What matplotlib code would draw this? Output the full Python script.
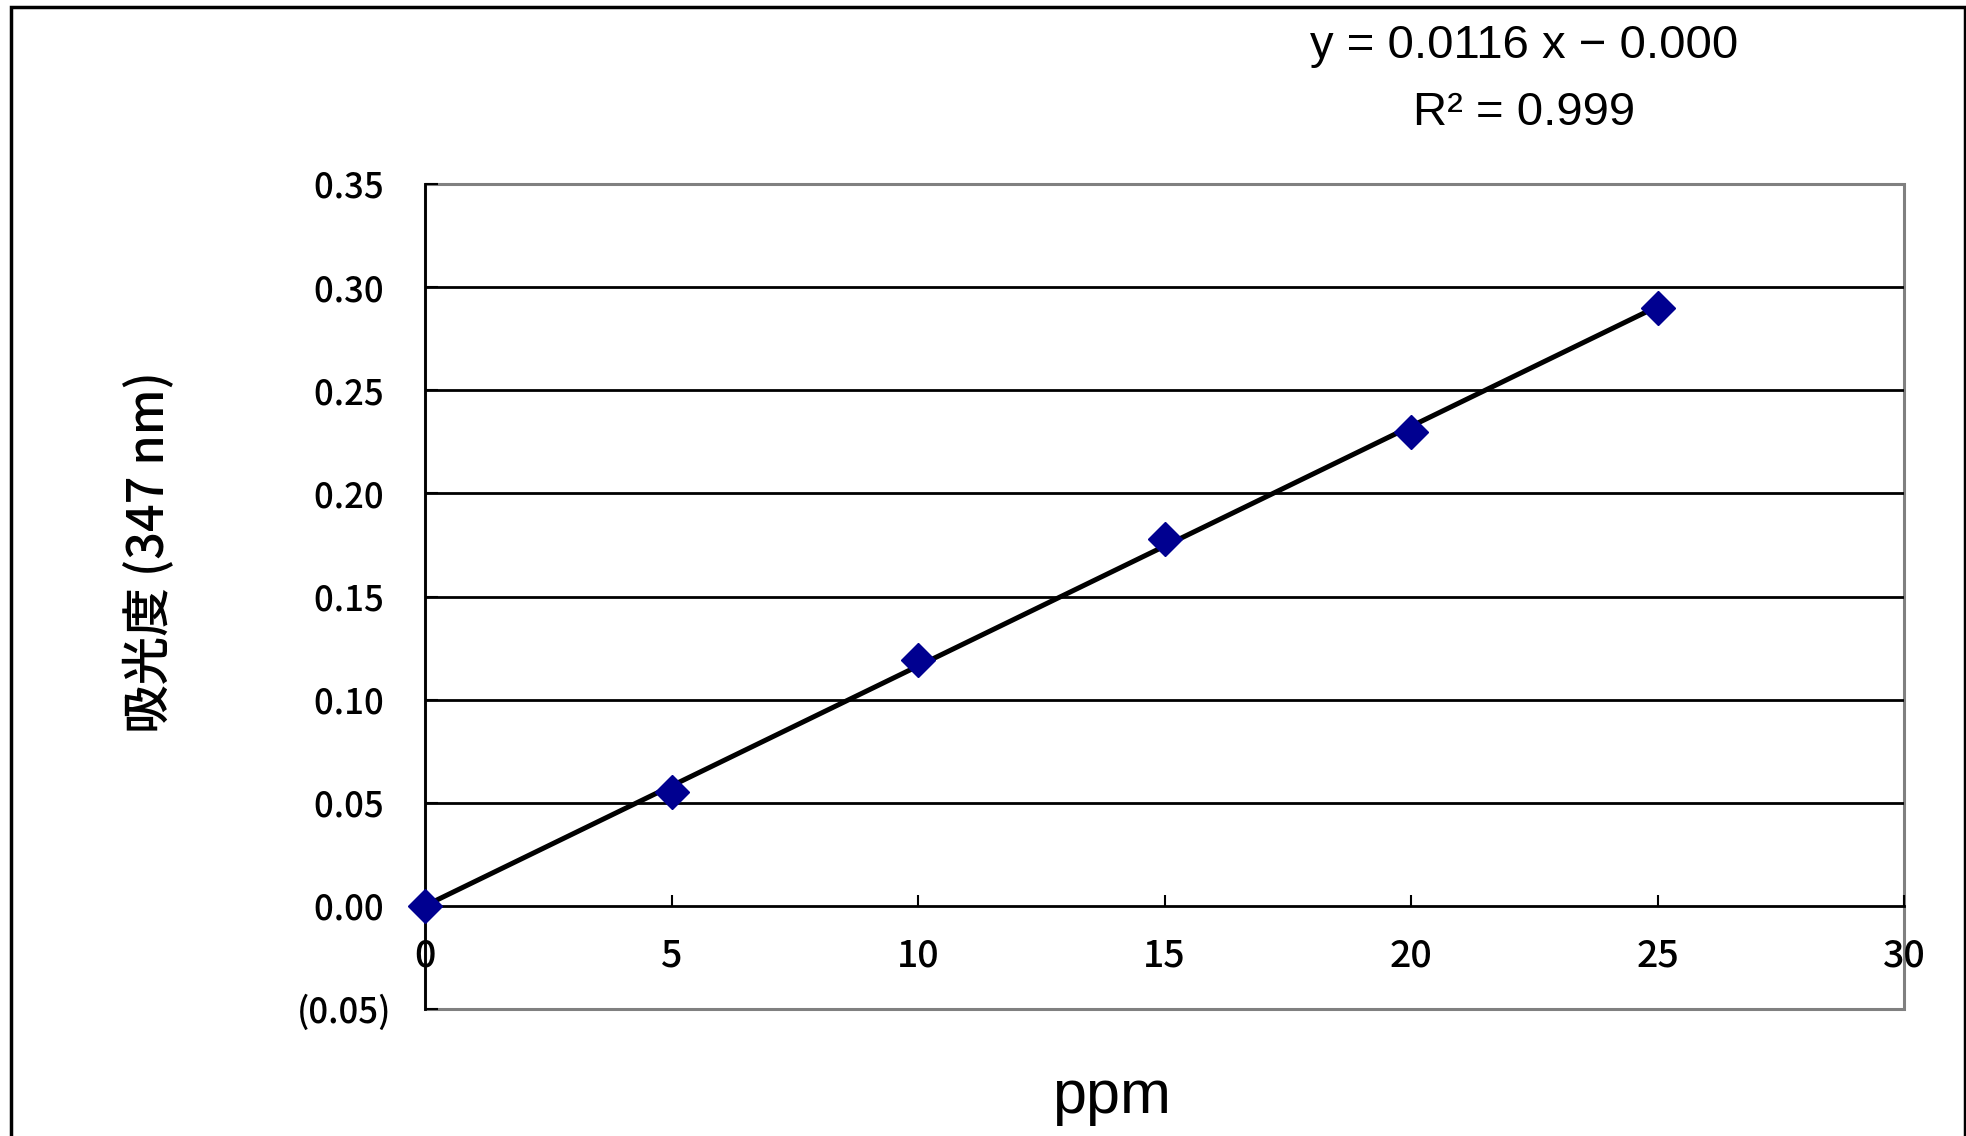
import numpy as np
import matplotlib
matplotlib.use("Agg")
import matplotlib.pyplot as plt
from matplotlib.patches import Rectangle

plt.rcParams['font.family'] = ['Noto Sans CJK JP', 'DejaVu Sans']

# datos de la curva de calibración
conc_ppm = [0, 5, 10, 15, 20, 25]
absorbancia = [0.000, 0.055, 0.119, 0.178, 0.230, 0.290]
y_ticks = [-0.05, 0.00, 0.05, 0.10, 0.15, 0.20, 0.25, 0.30, 0.35]
x_ticks = [0, 5, 10, 15, 20, 25, 30]
eq_line = "y = 0.0116 x − 0.000"
r2_line = "R² = 0.999"

fig = plt.figure(figsize=(19.66, 11.36), dpi=100)
ax = fig.add_axes([425 / 1966, 1 - 1009 / 1136, (1904 - 425) / 1966, (1009 - 184) / 1136])

# marco exterior del gráfico
fig.patches.append(Rectangle((11 / 1966, -0.05), (1965 - 11) / 1966, 1.05 - 7 / 1136,
                             transform=fig.transFigure, fill=False,
                             edgecolor='black', linewidth=2.5, clip_on=False))

# recta de ajuste
m, b = np.polyfit(conc_ppm, absorbancia, 1)
xs = np.array([conc_ppm[0], conc_ppm[-1]])
ax.plot(xs, m * xs + b, color='black', linewidth=3.6, solid_capstyle='round', zorder=3)
ax.plot(conc_ppm, absorbancia, linestyle='none', marker='D', markersize=17.5,
        color='#000090', zorder=4, clip_on=False)

ax.set_xlim(0, 30)
ax.set_ylim(-0.05, 0.35)
ax.set_xticks(x_ticks)
ax.set_yticks(y_ticks)
ax.set_xticklabels([str(v) for v in x_ticks])
ax.set_yticklabels([f"({abs(v):.2f})" if v < 0 else f"{v:.2f} " for v in y_ticks])

# bordes
ax.patch.set_edgecolor('#808080')
ax.patch.set_linewidth(2.2)
ax.spines['top'].set_visible(False)
ax.spines['right'].set_visible(False)
ax.spines['left'].set_color('black')
ax.spines['left'].set_linewidth(2)
ax.spines['bottom'].set_position(('data', 0))
ax.spines['bottom'].set_color('black')
ax.spines['bottom'].set_linewidth(2)

ax.tick_params(axis='y', direction='in', length=9, width=1.5, labelsize=25, pad=24)
ax.tick_params(axis='x', direction='in', length=8, width=1.5, labelsize=27, pad=22)
for lab in ax.get_xticklabels() + ax.get_yticklabels():
    lab.set_fontweight('medium')

ax.yaxis.grid(True, color='black', linewidth=2)
for t, v in zip(ax.yaxis.get_major_ticks(), y_ticks):
    if v <= 0 or v >= 0.35:
        t.gridline.set_visible(False)

fig.text(1524 / 1966, 1 - 46 / 1136, eq_line, ha='center', va='center',
         fontsize=34, family=['Liberation Sans', 'DejaVu Sans'])
fig.text(1524 / 1966, 1 - 113 / 1136, r2_line, ha='center', va='center',
         fontsize=34, family=['Liberation Sans', 'DejaVu Sans'])
fig.text(150 / 1966, 1 - 552 / 1136, "吸光度 (347 nm)", rotation=90,
         ha='center', va='center', fontsize=35, fontweight='medium')
fig.text(1111 / 1966, 1 - 1098 / 1136, "ppm", ha='center', va='center',
         fontsize=44, family=['Liberation Sans', 'DejaVu Sans'])

fig.savefig("out.png", dpi=100)
